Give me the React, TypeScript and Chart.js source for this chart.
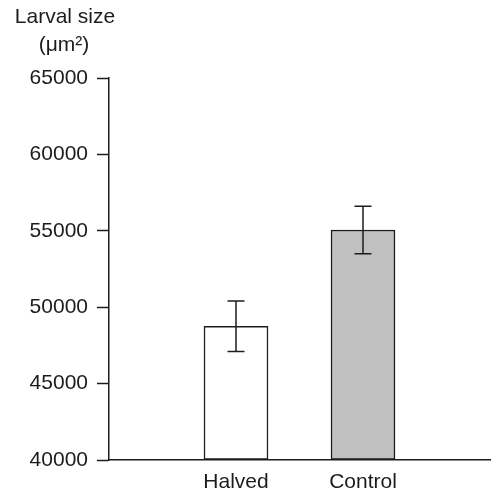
import React, { useEffect, useRef } from "react";
import { Chart, registerables } from "chart.js";

Chart.register(...registerables);

const categories = ["Halved", "Control"];
const positions = [1, 2];
const means = [48750, 55050];
const errors = [1650, 1550];
const fills = ["#ffffff", "#c0c0c0"];
const yTicks = [40000, 45000, 50000, 55000, 60000, 65000];
const titleLines = ["Larval size", "(μm²)"];

const FONT = "'Liberation Sans', Arial, Helvetica, sans-serif";
const INK = "#1c1c1c";

const errorBarPlugin = {
  id: "errorBars",
  afterDatasetsDraw(chart: any) {
    const { ctx, scales } = chart;
    const xs = scales.x;
    const ys = scales.y;
    ctx.save();
    ctx.strokeStyle = INK;
    ctx.lineWidth = 1.5;
    means.forEach((m, i) => {
      const x = xs.getPixelForValue(positions[i]);
      const top = ys.getPixelForValue(m + errors[i]);
      const bot = ys.getPixelForValue(m - errors[i]);
      const cap = 8.5;
      ctx.beginPath();
      ctx.moveTo(x, top);
      ctx.lineTo(x, bot);
      ctx.moveTo(x - cap, top);
      ctx.lineTo(x + cap, top);
      ctx.moveTo(x - cap, bot);
      ctx.lineTo(x + cap, bot);
      ctx.stroke();
    });
    ctx.restore();
  },
};

const titlePlugin = {
  id: "yTitle",
  afterDraw(chart: any) {
    const { ctx } = chart;
    ctx.save();
    ctx.fillStyle = INK;
    ctx.font = `21px ${FONT}`;
    ctx.textAlign = "center";
    ctx.textBaseline = "alphabetic";
    ctx.fillText(titleLines[0], 65, 23);
    ctx.fillText(titleLines[1], 64, 51);
    ctx.restore();
  },
};

export default function App() {
  const ref = useRef<HTMLCanvasElement>(null);
  useEffect(() => {
    if (!ref.current) return;
    const chart = new Chart(ref.current, {
      type: "bar",
      data: {
        datasets: [
          {
            data: means.map((m, i) => ({ x: positions[i], y: m })),
            backgroundColor: fills,
            borderColor: INK,
            borderWidth: 1.5,
            barThickness: 64,
            base: 40000,
            borderSkipped: false,
          } as any,
        ],
      },
      plugins: [errorBarPlugin, titlePlugin],
      options: {
        animation: false,
        responsive: false,
        maintainAspectRatio: false,
        layout: { padding: { top: 78, right: 2, left: 0, bottom: 0 } },
        plugins: {
          legend: { display: false },
          tooltip: { enabled: false },
          title: { display: false },
        },
        scales: {
          x: {
            type: "linear",
            min: 0,
            max: 3,
            offset: false,
            grid: { display: false, offset: false },
            border: { display: true, color: INK, width: 1.5 },
            afterBuildTicks: (scale: any) => {
              scale.ticks = positions.map((v) => ({ value: v }));
            },
            afterFit: (scale: any) => {
              scale.height = 31;
            },
            ticks: {
              autoSkip: false,
              maxRotation: 0,
              padding: 2,
              color: INK,
              font: { family: FONT, size: 21 },
              callback: (v: any) => {
                const i = positions.indexOf(Number(v));
                return i >= 0 ? categories[i] : "";
              },
            },
          },
          y: {
            type: "linear",
            min: 40000,
            max: 65000,
            afterBuildTicks: (scale: any) => {
              scale.ticks = yTicks.map((v) => ({ value: v }));
            },
            afterFit: (scale: any) => {
              scale.width = 109;
            },
            grid: {
              drawOnChartArea: false,
              drawTicks: true,
              tickLength: 12,
              tickColor: INK,
              tickWidth: 1.5,
            },
            border: { display: true, color: INK, width: 1.5 },
            ticks: {
              padding: 9,
              color: INK,
              font: { family: FONT, size: 21 },
              callback: (v: any) => String(v),
            },
          },
        },
      } as any,
    });
    return () => chart.destroy();
  }, []);
  return (
    <div style={{ position: "fixed", left: 0, top: 0, width: 492, height: 491, background: "#fff" }}>
      <canvas ref={ref} width={492} height={491} style={{ width: 492, height: 491, display: "block" }} />
    </div>
  );
}
